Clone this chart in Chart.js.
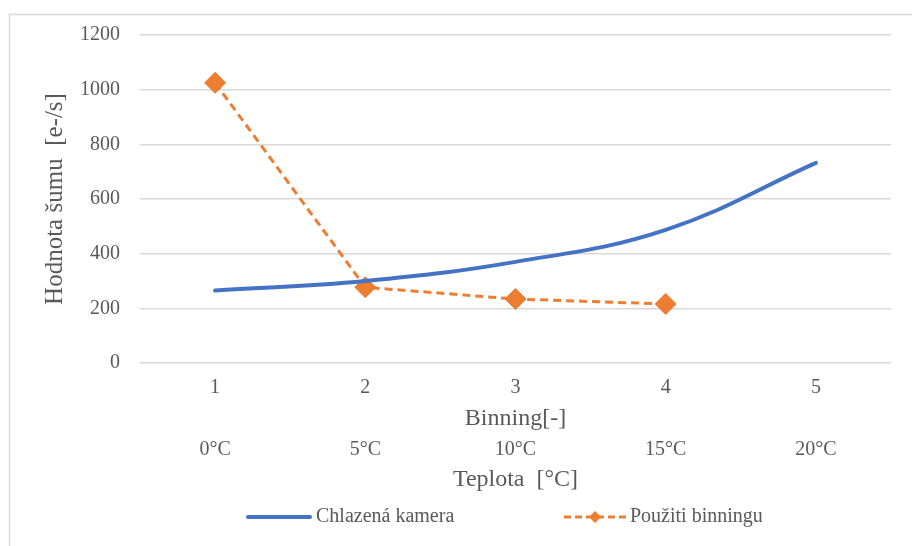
<!DOCTYPE html>
<html>
<head>
<meta charset="utf-8">
<script src="https://cdn.jsdelivr.net/npm/chart.js@4/dist/chart.umd.min.js"></script>
<style>
  body { margin: 0; background: #fff; }
  #wrap { width: 912px; height: 546px; }
</style>
</head>
<body>
<div id="wrap"><canvas id="noiseChart" width="912" height="546"></canvas></div>
<script>
const binning = ['1', '2', '3', '4', '5'];
const teplota = ['0°C', '5°C', '10°C', '15°C', '20°C'];
const chlazenaKamera = [265, 300, 370, 487, 732];
const pouzitiBinningu = [1025, 277, 234, 216];
const yTicks = [0, 200, 400, 600, 800, 1000, 1200];

const textGrey = '#595959';
const blue = '#4472C4';
const orange = '#ED7D31';
const serif = "'Liberation Serif', 'Times New Roman', serif";

// frame + custom legend like the Excel original
const framePlugin = {
    id: 'frame',
    beforeDraw(chart) {
        const c = chart.ctx;
        c.save();
        c.fillStyle = '#fff';
        c.fillRect(0, 0, chart.width, chart.height);
        c.strokeStyle = '#d9d9d9';
        c.lineWidth = 1.5;
        c.beginPath();
        c.moveTo(chart.width, 14.5);
        c.lineTo(9.5, 14.5);
        c.lineTo(9.5, chart.height);
        c.stroke();
        c.restore();
    },
    afterDraw(chart) {
        const c = chart.ctx;
        const y = 517;
        c.save();
        c.font = '20px ' + serif;
        c.fillStyle = textGrey;
        c.textBaseline = 'middle';
        // blue entry
        c.strokeStyle = blue;
        c.lineWidth = 4;
        c.lineCap = 'round';
        c.beginPath();
        c.moveTo(248, y);
        c.lineTo(310, y);
        c.stroke();
        c.fillText('Chlazená kamera', 316, y);
        // orange entry
        c.strokeStyle = orange;
        c.lineWidth = 3;
        c.lineCap = 'butt';
        c.setLineDash([7, 4]);
        c.beginPath();
        c.moveTo(564, y);
        c.lineTo(626, y);
        c.stroke();
        c.setLineDash([]);
        c.fillStyle = orange;
        c.beginPath();
        c.moveTo(595, y - 6);
        c.lineTo(601, y);
        c.lineTo(595, y + 6);
        c.lineTo(589, y);
        c.closePath();
        c.fill();
        c.fillStyle = textGrey;
        c.fillText('Použiti binningu', 630, y);
        c.restore();
    }
};

new Chart(document.getElementById('noiseChart').getContext('2d'), {
    type: 'line',
    data: {
        labels: binning,
        datasets: [{
            label: 'Chlazená kamera',
            data: chlazenaKamera,
            borderColor: blue,
            backgroundColor: blue,
            borderWidth: 4,
            tension: 0.4,
            pointRadius: 0,
            borderCapStyle: 'round'
        }, {
            label: 'Použiti binningu',
            data: pouzitiBinningu,
            borderColor: orange,
            backgroundColor: orange,
            borderWidth: 3,
            borderDash: [8, 5],
            tension: 0,
            pointStyle: 'rectRot',
            pointRadius: 10.5,
            pointBorderWidth: 1
        }]
    },
    plugins: [framePlugin],
    options: {
        responsive: false,
        animation: false,
        layout: { padding: { left: 9, right: 21, top: 35, bottom: 48 } },
        plugins: {
            legend: { display: false },
            tooltip: { enabled: false }
        },
        scales: {
            x: {
                position: 'bottom',
                offset: true,
                grid: { display: false, drawTicks: false },
                border: { display: false },
                ticks: { color: textGrey, font: { family: serif, size: 20 }, padding: 13, maxRotation: 0 },
                title: { display: true, text: 'Binning[-]', color: textGrey, font: { family: serif, size: 24 }, padding: { top: 4, bottom: 4 } },
                afterFit(s) { s.height = 74; }
            },
            x2: {
                type: 'category',
                labels: teplota,
                position: 'bottom',
                offset: true,
                grid: { display: false, drawTicks: false },
                border: { display: false },
                ticks: { color: textGrey, font: { family: serif, size: 20 }, padding: 1, maxRotation: 0 },
                title: { display: true, text: 'Teplota  [°C]', color: textGrey, font: { family: serif, size: 24 }, padding: { top: 4, bottom: 4 } },
                afterFit(s) { s.height = 61; }
            },
            y: {
                min: 0,
                max: 1200,
                afterBuildTicks(s) { s.ticks = yTicks.map(v => ({ value: v })); },
                grid: { color: '#d9d9d9', lineWidth: 1.5, drawTicks: false },
                border: { display: false },
                ticks: {
                    color: textGrey,
                    font: { family: serif, size: 20 },
                    padding: 20,
                    callback: v => String(v)
                },
                title: { display: true, text: 'Hodnota šumu  [e-/s]', color: textGrey, font: { family: serif, size: 25 }, padding: { top: 31, bottom: 4 } },
                afterFit(s) { s.width = 131; }
            }
        }
    }
});
</script>
</body>
</html>
